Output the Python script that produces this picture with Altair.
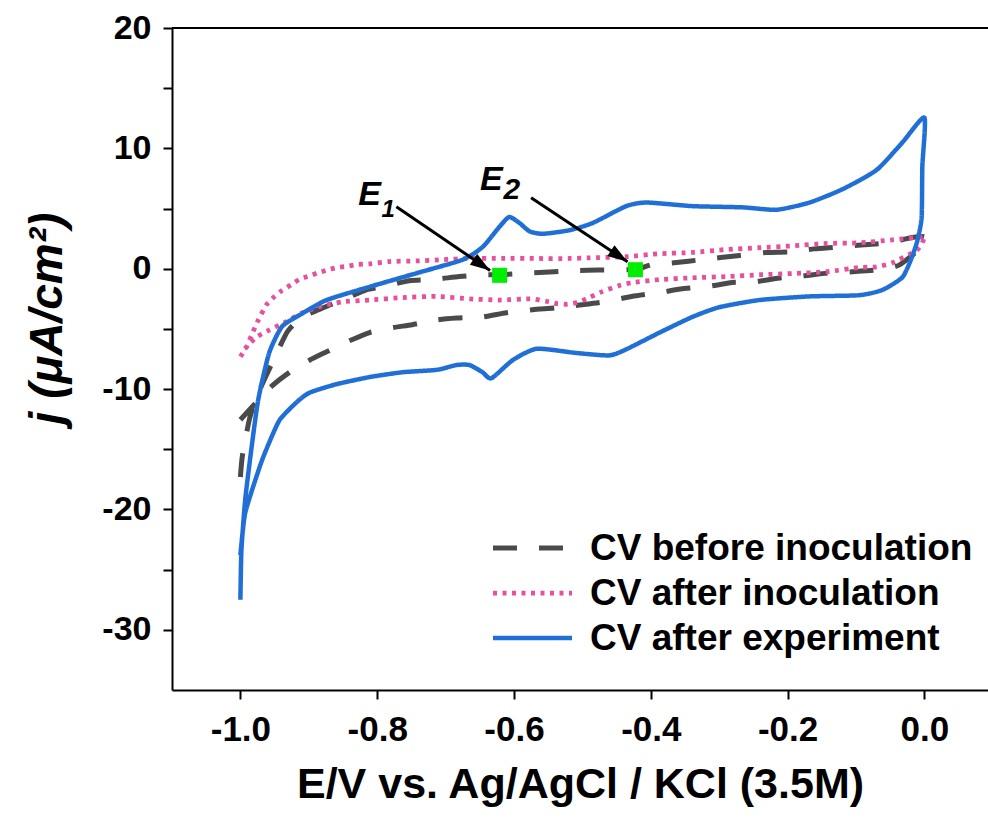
import math
import altair as alt
import pandas as pd

# ---------------- data ----------------
SERIES = ["CV before inoculation", "CV after inoculation", "CV after experiment"]
COLORS = ["#4a4a4a", "#e84f9f", "#1f6fd6"]
DASHES = [[24, 22], [4, 5.5], [1, 0]]
WIDTHS = [5, 4.5, 4]

before_E = [-1.0, -0.997, -0.987, -0.978, -0.965, -0.950, -0.931, -0.909, -0.877, -0.851,
            -0.816, -0.792, -0.753, -0.719, -0.680, -0.646, -0.621, -0.575, -0.507, -0.471,
            -0.423, -0.398, -0.366, -0.326, -0.270, -0.231, -0.197, -0.161, -0.127, -0.088,
            -0.054, -0.018, 0.0,
            0.0, -0.037, -0.069, -0.105, -0.139, -0.178, -0.209, -0.249, -0.281, -0.319,
            -0.351, -0.390, -0.428, -0.468, -0.501, -0.538, -0.573, -0.611, -0.646, -0.684,
            -0.713, -0.749, -0.778, -0.811, -0.845, -0.874, -0.899, -0.928, -0.955, -0.980, -1.0]
before_j = [-17.3, -15.5, -12.55, -10.9, -9.2, -7.4, -5.2, -4.0, -3.2, -2.6,
            -1.75, -1.5, -1.0, -0.9, -0.65, -0.5, -0.5, -0.35, -0.15, -0.1,
            -0.05, 0.35, 0.5, 0.75, 1.1, 1.35, 1.4, 1.65, 1.8, 2.0,
            2.15, 2.6, 2.65,
            2.0, 0.3, -0.1, -0.25, -0.35, -0.6, -0.75, -1.1, -1.15, -1.5,
            -1.65, -2.0, -2.3, -2.75, -3.0, -3.25, -3.4, -3.65, -4.0, -4.1,
            -4.25, -4.65, -4.9, -5.3, -6.1, -6.9, -7.6, -8.6, -9.8, -11.3, -12.55]

inoc_E = [-1.0, -0.991, -0.982, -0.975, -0.962, -0.950, -0.939, -0.925, -0.914, -0.902,
          -0.887, -0.873, -0.858, -0.844, -0.829, -0.811, -0.782, -0.743, -0.705, -0.665,
          -0.617, -0.567, -0.519, -0.490, -0.436, -0.387, -0.339, -0.289, -0.241, -0.193,
          -0.143, -0.095, -0.047, -0.003,
          0.0, -0.004, -0.010, -0.018, -0.047, -0.070, -0.095, -0.143, -0.193, -0.241,
          -0.289, -0.339, -0.387, -0.427, -0.446, -0.471, -0.494, -0.507, -0.522, -0.537,
          -0.553, -0.577, -0.621, -0.665, -0.713, -0.763, -0.811, -0.851, -0.885, -0.909,
          -0.933, -0.958, -0.977, -0.991, -1.0]
inoc_j = [-7.3, -6.5, -5.3, -4.4, -3.0, -2.3, -1.8, -1.3, -0.9, -0.65,
          -0.35, -0.1, 0.1, 0.2, 0.35, 0.4, 0.6, 0.65, 0.75, 0.85,
          0.85, 0.85, 0.85, 0.9, 1.0, 1.25, 1.35, 1.6, 1.75, 1.9,
          2.1, 2.15, 2.4, 2.65,
          2.7, 2.0, 1.6, 1.3, 0.5, 0.15, 0.1, -0.25, -0.4, -0.5,
          -0.65, -0.75, -0.9, -1.15, -1.4, -1.9, -2.5, -2.8, -2.95, -2.9,
          -2.7, -2.5, -2.6, -2.5, -2.3, -2.4, -2.6, -2.75, -3.15, -3.65,
          -4.4, -5.1, -5.7, -6.5, -6.9]

exp_E = [-1.0, -0.9985, -0.993, -0.984, -0.974, -0.958, -0.939, -0.909, -0.874, -0.811,
         -0.738, -0.675, -0.646, -0.621, -0.607, -0.592, -0.577, -0.558, -0.519, -0.485,
         -0.436, -0.406, -0.339, -0.266, -0.216, -0.168, -0.120, -0.070, -0.032, 0.0,
         -0.003, -0.004, -0.010, -0.018, -0.032, -0.061, -0.095, -0.168, -0.241, -0.300,
         -0.339, -0.387, -0.436, -0.461, -0.509, -0.567, -0.602, -0.633, -0.646, -0.665,
         -0.684, -0.713, -0.763, -0.811, -0.860, -0.899, -0.918, -0.943, -0.962, -0.972,
         -0.993, -1.0]
exp_j = [-27.5, -23.4, -19.2, -15.0, -10.9, -7.0, -4.8, -3.7, -2.6, -1.5,
         -0.3, 0.75, 1.8, 3.5, 4.3, 3.8, 3.1, 2.9, 3.2, 3.8,
         5.2, 5.5, 5.2, 5.1, 4.9, 5.5, 6.6, 8.2, 10.5, 12.55,
         8.5, 4.3, 2.4, 1.0, -0.7, -1.75, -2.2, -2.3, -2.6, -3.2,
         -4.0, -5.3, -6.7, -7.2, -7.0, -6.65, -7.6, -9.1, -8.6, -8.0,
         -8.0, -8.4, -8.6, -9.0, -9.6, -10.3, -11.1, -12.6, -15.0, -16.5,
         -20.3, -23.8]

X_TICKS = [-1.0, -0.8, -0.6, -0.4, -0.2, 0.0]
Y_TICKS = [-30, -25, -20, -15, -10, -5, 0, 5, 10, 15, 20]

# marked potentials E1, E2
MARK_E = [-0.621, -0.4225]
MARK_J = [-0.55, -0.08]
LBL_E = [-0.811, -0.633]
LBL_J = [6.15, 7.4]
SUB_TXT = ["1", "2"]
SUB_E = [-0.784, -0.603]
SUB_J = [4.9, 6.5]
SUB_SIZE = [24, 30]
ARR_E1 = [-0.772, -0.575]
ARR_J1 = [5.15, 5.9]
ARR_E2 = [-0.635, -0.434]
ARR_J2 = [-0.15, 0.58]

# ---------------- layout ----------------
W, H = 816, 662
XDOM = [-1.1, 0.093]
YDOM = [-35, 20]
FONT = "Liberation Sans"

rows = []
for name, xs_, ys_ in [(SERIES[0], before_E, before_j), (SERIES[1], inoc_E, inoc_j), (SERIES[2], exp_E, exp_j)]:
    for k, (a, b) in enumerate(zip(xs_, ys_)):
        rows.append({"E": a, "j": b, "series": name, "idx": k})
curves = pd.DataFrame(rows)

kx = W / (XDOM[1] - XDOM[0])
ky = H / (YDOM[1] - YDOM[0])
arrows = pd.DataFrame({"E": ARR_E1, "j": ARR_J1, "x2": ARR_E2, "y2": ARR_J2})
arrows["ang"] = [math.degrees(math.atan2((a - b) * ky, (d - c) * kx))
                 for a, b, c, d in zip(ARR_J1, ARR_J2, ARR_E1, ARR_E2)]
heads_df = pd.DataFrame({"E": ARR_E2, "j": ARR_J2, "ang": list(arrows["ang"])})
marks = pd.DataFrame({"E": MARK_E, "j": MARK_J})
labels = pd.DataFrame({"E": LBL_E, "j": LBL_J, "t": ["E", "E"]})
subs = pd.DataFrame({"E": SUB_E, "j": SUB_J, "t": SUB_TXT, "s": SUB_SIZE})

xs = alt.Scale(domain=XDOM, nice=False, zero=False)
ys = alt.Scale(domain=YDOM, nice=False, zero=False)
color_scale = alt.Scale(domain=SERIES, range=COLORS)
dash_scale = alt.Scale(domain=SERIES, range=DASHES)
width_scale = alt.Scale(domain=SERIES, range=WIDTHS)

x_axis = alt.Axis(values=X_TICKS, title="E/V vs. Ag/AgCl / KCl (3.5M)", titleFontSize=43,
                  labelExpr="(datum.value < -0.0001 ? '-' : '') + format(abs(datum.value), '.1f')",
                  labelFontSize=35, labelPadding=13, titlePadding=16, labelFlush=False, labelOverlap=False)
y_axis = alt.Axis(values=Y_TICKS, title="j (μA/cm²)", titleFontStyle="italic", titleFontSize=46,
                  titleY=290,
                  labelExpr="datum.value % 10 === 0 ? ((datum.value < 0 ? '-' : '') + format(abs(datum.value), 'd')) : ''",
                  labelPadding=12, titlePadding=30, labelFlush=False, labelOverlap=False)

X = alt.X("E:Q", scale=xs, axis=x_axis)
Y = alt.Y("j:Q", scale=ys, axis=y_axis)

lines = alt.Chart(curves).mark_line(interpolate="cardinal", tension=0.4, strokeJoin="round").encode(
    x=X, y=Y,
    color=alt.Color("series:N", scale=color_scale, legend=None),
    strokeDash=alt.StrokeDash("series:N", scale=dash_scale, legend=None),
    strokeWidth=alt.StrokeWidth("series:N", scale=width_scale, legend=None),
    order="idx:Q",
)

top_frame = alt.Chart(pd.DataFrame({"a": [0]})).mark_rule(color="black", strokeWidth=2).encode(
    x=alt.value(0), x2=alt.value(W), y=alt.value(0)
)

squares = alt.Chart(marks).mark_square(size=225, color="#00ee00", opacity=1, filled=True).encode(x=X, y=Y)

shafts = alt.Chart(arrows).mark_rule(color="black", strokeWidth=3).encode(
    x=X, y=Y, x2="x2:Q", y2="y2:Q"
)
heads = alt.Chart(heads_df).mark_point(
    shape="M 0 0 L -2 -0.65 L -2 0.65 Z", size=400, filled=True, color="black", opacity=1, strokeWidth=0
).encode(x=X, y=Y, angle=alt.Angle("ang:Q", scale=None))

etext = alt.Chart(labels).mark_text(font=FONT, fontSize=34, fontStyle="italic", fontWeight="bold",
                                    color="black", align="center", baseline="middle").encode(
    x=X, y=Y, text="t:N"
)
subtext = alt.Chart(subs).mark_text(font=FONT, fontStyle="italic", fontWeight="bold",
                                    color="black", align="center", baseline="middle").encode(
    x=X, y=Y, text="t:N", size=alt.Size("s:Q", scale=None, legend=None)
)

# legend drawn from the series list, sharing the same colour / dash scales
LEG_X0, LEG_X1, LEG_TX, LEG_Y0, LEG_DY = 321, 400, 418, 520, 45
legend_layers = []
for i, name in enumerate(SERIES):
    d = pd.DataFrame({"series": [name]})
    legend_layers.append(
        alt.Chart(d).mark_rule().encode(
            x=alt.value(LEG_X0), x2=alt.value(LEG_X1), y=alt.value(LEG_Y0 + LEG_DY * i),
            color=alt.Color("series:N", scale=color_scale, legend=None),
            strokeDash=alt.StrokeDash("series:N", scale=dash_scale, legend=None),
            strokeWidth=alt.StrokeWidth("series:N", scale=width_scale, legend=None),
        )
    )
    legend_layers.append(
        alt.Chart(d).mark_text(font=FONT, fontSize=37, fontWeight="bold", color="black",
                               align="left", baseline="middle").encode(
            x=alt.value(LEG_TX), y=alt.value(LEG_Y0 + LEG_DY * i + 1), text="series:N"
        )
    )

chart = alt.layer(lines, top_frame, squares, shafts, heads, etext, subtext, *legend_layers).properties(
    width=W, height=H,
    padding={"left": 172, "top": 28, "right": 0, "bottom": 129},
    autosize=alt.AutoSizeParams(type="none"),
    background="white",
).configure_view(stroke=None).configure_axis(
    domainColor="black", domainWidth=2, tickColor="black", tickWidth=2, tickSize=9,
    labelFont=FONT, labelFontSize=34, labelFontWeight="bold", labelColor="black",
    titleFont=FONT, titleFontSize=42, titleFontWeight="bold", titleColor="black", grid=False,
)

chart.save("out.html", embed_options={"renderer": "svg", "actions": False})
